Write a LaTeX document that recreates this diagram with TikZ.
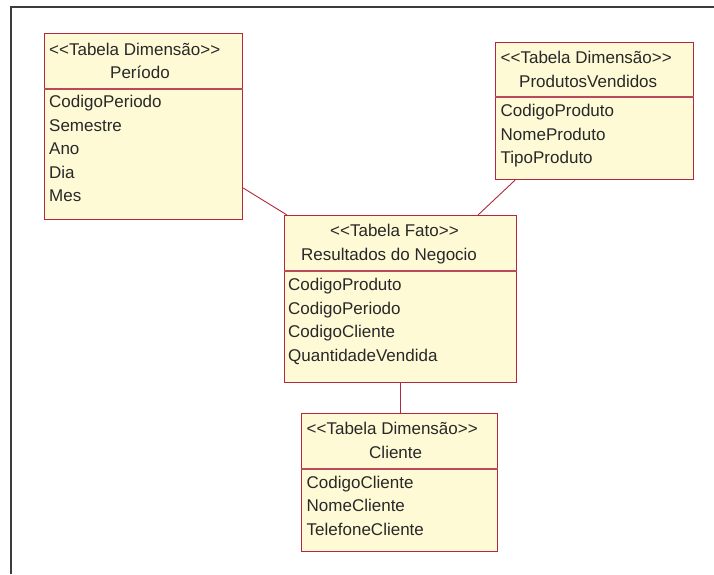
\documentclass[tikz,border=0pt]{standalone}
\usepackage{fontspec}
\setmainfont{Liberation Sans}[Ligatures=TeXOff]
\definecolor{umlred}{RGB}{178,40,62}
\definecolor{umlfill}{RGB}{255,250,214}
\definecolor{umltext}{RGB}{40,40,40}
\definecolor{framegray}{RGB}{60,60,60}
\newcommand{\umlfont}{\fontsize{17}{20}\selectfont}
\tikzset{
  tbl/.style={rectangle, draw=umlred, fill=umlfill, line width=1.2pt, inner sep=0pt, anchor=north west},
  divider/.style={draw=umlred!85!white, line width=1.1pt},
  lbl/.style={anchor=base west, inner sep=0pt, text=umltext, font=\umlfont},
  link/.style={draw=umlred, line width=0.9pt},
  frameline/.style={draw=framegray, line width=2pt},
}
\begin{document}
\begin{tikzpicture}[x=1pt, y=-1pt]
\useasboundingbox (0,0) rectangle (714,574);
\fill[white] (0,0) rectangle (714,574);

% outer frame (top and left edges)
\draw[frameline] (714,6.5) -- (10.5,6.5) -- (10.5,574);

% ---- Periodo ----
\node[tbl, minimum width=198pt, minimum height=186pt] (per) at (44,33) {};
\draw[divider] ([yshift=-56pt]per.north west) -- ([yshift=-56pt]per.north east);
\node[lbl] (perS) at (49,55) {<<Tabela Dimensão>>};
\node[lbl] (perN) at (110,78.5) {Período};
\node[lbl] (perA1) at (49,107.5) {CodigoPeriodo};
\node[lbl] (perA2) at (49,131) {Semestre};
\node[lbl] (perA3) at (49,154.5) {Ano};
\node[lbl] (perA4) at (49,178) {Dia};
\node[lbl] (perA5) at (49,201.5) {Mes};

% ---- ProdutosVendidos ----
\node[tbl, minimum width=198pt, minimum height=137pt] (prod) at (495,42) {};
\draw[divider] ([yshift=-55pt]prod.north west) -- ([yshift=-55pt]prod.north east);
\node[lbl] (prodS) at (500.5,63) {<<Tabela Dimensão>>};
\node[lbl] (prodN) at (519,87) {ProdutosVendidos};
\node[lbl] (prodA1) at (500.5,116.5) {CodigoProduto};
\node[lbl] (prodA2) at (500.5,140) {NomeProduto};
\node[lbl] (prodA3) at (500.5,163.5) {TipoProduto};

% ---- Resultados do Negocio ----
\node[tbl, minimum width=232pt, minimum height=167pt] (fato) at (284,215) {};
\draw[divider] ([yshift=-56pt]fato.north west) -- ([yshift=-56pt]fato.north east);
\node[lbl] (fatoS) at (330,236.5) {<<Tabela Fato>>};
\node[lbl] (fatoN) at (301,260) {Resultados do Negocio};
\node[lbl] (fatoA1) at (288,290.5) {CodigoProduto};
\node[lbl] (fatoA2) at (288,314) {CodigoPeriodo};
\node[lbl] (fatoA3) at (288,337.5) {CodigoCliente};
\node[lbl] (fatoA4) at (288,361) {QuantidadeVendida};

% ---- Cliente ----
\node[tbl, minimum width=196pt, minimum height=138pt] (cli) at (301,413) {};
\draw[divider] ([yshift=-56pt]cli.north west) -- ([yshift=-56pt]cli.north east);
\node[lbl] (cliS) at (306.5,434.5) {<<Tabela Dimensão>>};
\node[lbl] (cliN) at (369,458) {Cliente};
\node[lbl] (cliA1) at (306.5,488) {CodigoCliente};
\node[lbl] (cliA2) at (306.5,511.5) {NomeCliente};
\node[lbl] (cliA3) at (306.5,535) {TelefoneCliente};

% ---- associations ----
\draw[link] ([yshift=-155pt]per.north east) -- ([xshift=3pt]fato.north west);
\draw[link] ([xshift=20pt]prod.south west) -- ([xshift=194pt]fato.north west);
\draw[link] ([xshift=116pt]fato.south west) -- ([xshift=99pt]cli.north west);
\end{tikzpicture}
\end{document}
